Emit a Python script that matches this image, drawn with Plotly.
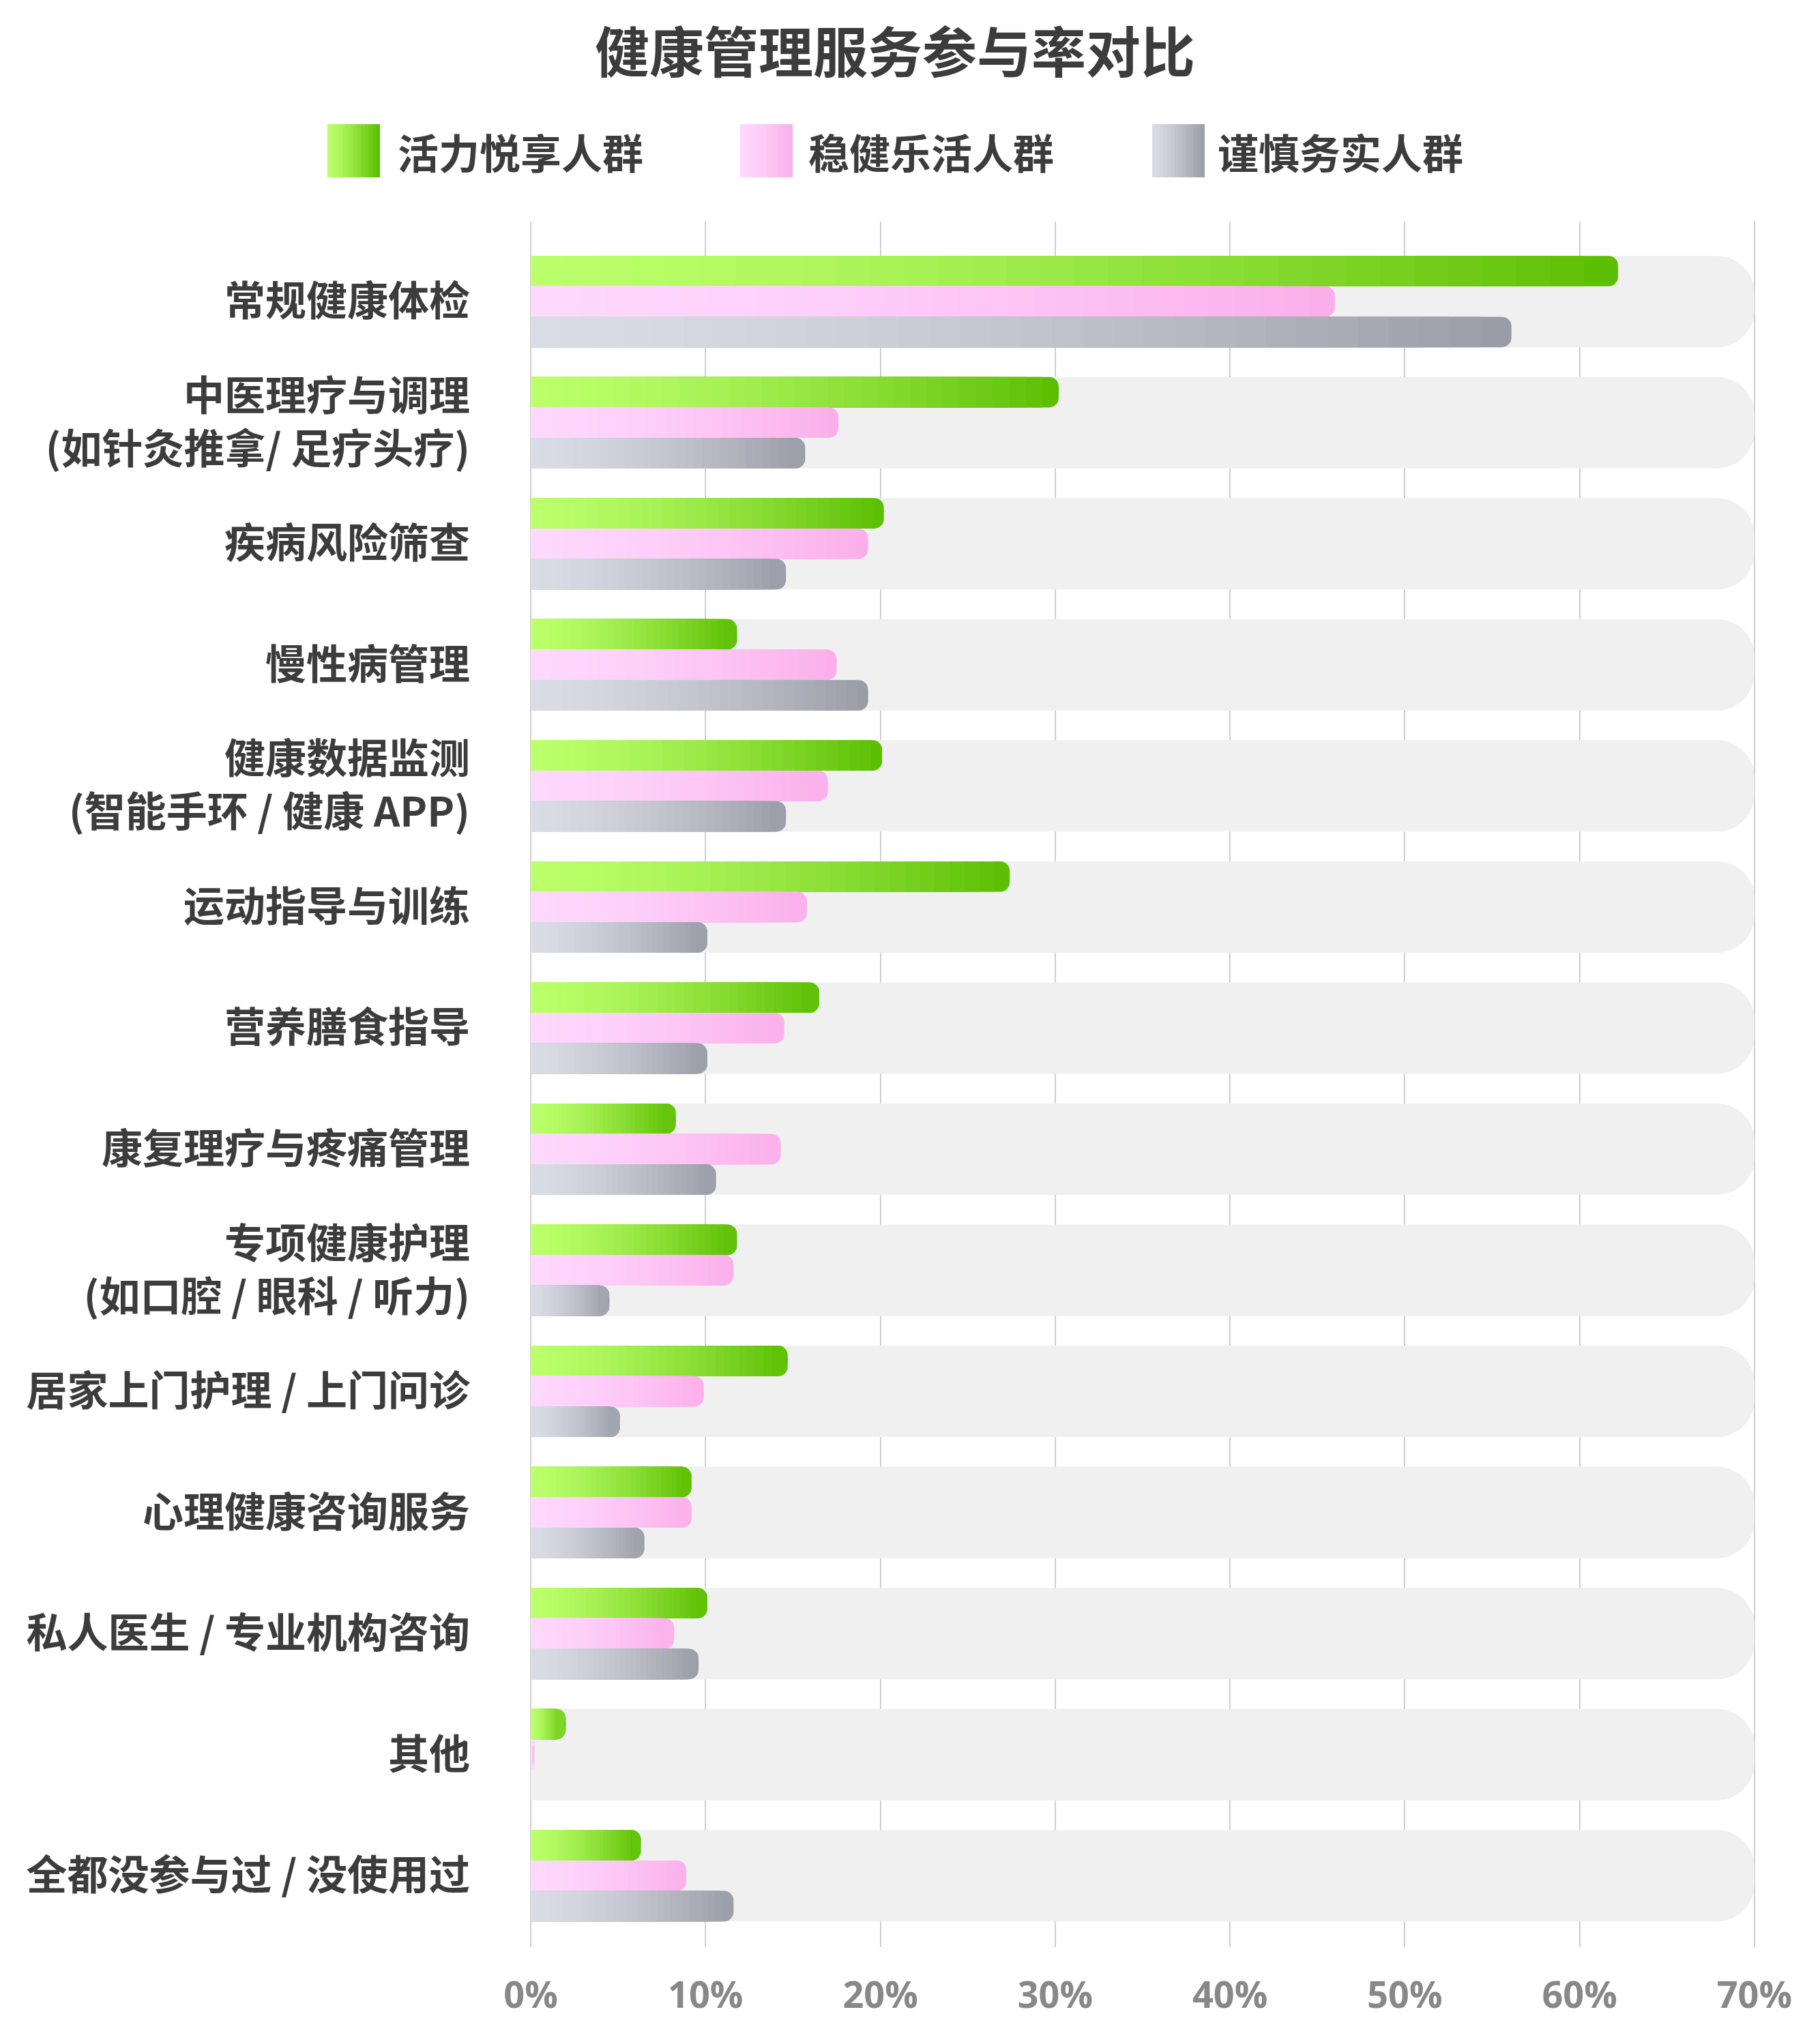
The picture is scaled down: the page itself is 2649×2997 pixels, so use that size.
import plotly.graph_objects as go

# ---------------- data ----------------
categories = [
    "常规健康体检",
    "中医理疗与调理<br>(如针灸推拿/ 足疗头疗)",
    "疾病风险筛查",
    "慢性病管理",
    "健康数据监测<br>(智能手环 / 健康 APP)",
    "运动指导与训练",
    "营养膳食指导",
    "康复理疗与疼痛管理",
    "专项健康护理<br>(如口腔 / 眼科 / 听力)",
    "居家上门护理 / 上门问诊",
    "心理健康咨询服务",
    "私人医生 / 专业机构咨询",
    "其他",
    "全都没参与过 / 没使用过",
]
series_names = ["活力悦享人群", "稳健乐活人群", "谨慎务实人群"]
vitality = [62.2, 30.2, 20.2, 11.8, 20.1, 27.4, 16.5, 8.3, 11.8, 14.7, 9.2, 10.1, 2.0, 6.3]
steady = [46.0, 17.6, 19.3, 17.5, 17.0, 15.8, 14.5, 14.3, 11.6, 9.9, 9.2, 8.2, 0.2, 8.9]
prudent = [56.1, 15.7, 14.6, 19.3, 14.6, 10.1, 10.1, 10.6, 4.5, 5.1, 6.5, 9.6, 0.0, 11.6]
background_max = [70] * len(categories)
x_ticks = [0, 10, 20, 30, 40, 50, 60, 70]

# ---------------- styling ----------------
W, H = 2649, 2997
ML, MR, MT, MB = 776, 75, 325, 142
PW, PH = W - ML - MR, H - MT - MB
FONT_CJK = "Noto Sans CJK SC"
TEXT_COLOR = "#3c3c3c"
gradients = [
    ("#bbff6a", "#5abd00"),
    ("#fed8fd", "#fbaeea"),
    ("#d9dce4", "#999ba6"),
]
K = 32  # gradient layers


def hex2rgb(h):
    h = h.lstrip("#")
    return [int(h[i:i + 2], 16) for i in (0, 2, 4)]


def mix(c1, c2, t):
    a, b = hex2rgb(c1), hex2rgb(c2)
    return "rgb(%d,%d,%d)" % tuple(round(a[i] + (b[i] - a[i]) * t) for i in range(3))


n = len(categories)
y_range = [n - 1 + 0.59, -0.66]

fig = go.Figure()

# background tracks (base axis)
fig.add_trace(go.Bar(
    x=background_max, y=categories, orientation="h",
    marker=dict(color="#f0f0f0", cornerradius=55, line=dict(width=0)),
    showlegend=False, hoverinfo="skip", yaxis="y",
))

# gradient bars (overlay axis)
for s_idx, (name, vals) in enumerate(zip(series_names, [vitality, steady, prudent])):
    light, dark = gradients[s_idx]
    for k in range(K):
        frac = (K - k) / K
        t = (K - k - 0.5) / K
        col = mix(light, dark, t ** 1.5)
        fig.add_trace(go.Bar(
            x=[v * frac for v in vals], y=categories, orientation="h",
            name=name, offsetgroup=name,
            marker=dict(color=col, cornerradius=14, line=dict(width=0)),
            showlegend=False, hoverinfo="skip" if k else "x+name", yaxis="y2",
        ))

# ---------------- manual legend ----------------
def px_x(px):
    return (px - ML) / PW


def px_y(py):
    return 1 - (py - MT) / PH


shapes = []
annotations = []
legend_pos = [(480, 581), (1085, 1183), (1689, 1783)]
sw_w, sw_top, sw_bot = 77, 182, 260
strips = 14
for (sx, tx), (light, dark), name in zip(legend_pos, gradients, series_names):
    for i in range(strips):
        x0 = sx + sw_w * i / strips
        x1 = sx + sw_w * (i + 1) / strips + 0.6
        shapes.append(dict(
            type="rect", xref="paper", yref="paper",
            x0=px_x(x0), x1=px_x(min(x1, sx + sw_w)), y0=px_y(sw_bot), y1=px_y(sw_top),
            fillcolor=mix(light, dark, ((i + 0.5) / strips) ** 1.3), line=dict(width=0), layer="above",
        ))
    annotations.append(dict(
        text=name, xref="paper", yref="paper", x=px_x(tx), y=px_y(221),
        xanchor="left", yanchor="middle", showarrow=False,
        font=dict(family=FONT_CJK, size=60, color=TEXT_COLOR, weight=700),
    ))

fig.update_layout(
    width=W, height=H,
    margin=dict(l=ML, r=MR, t=MT, b=MB, pad=0),
    paper_bgcolor="white", plot_bgcolor="white",
    barmode="group", bargap=0.245, bargroupgap=0,
    title=dict(
        text="健康管理服务参与率对比", x=1312 / W, xanchor="center",
        y=1 - 78 / H, yanchor="middle", xref="container", yref="container",
        font=dict(family=FONT_CJK, size=80, color=TEXT_COLOR, weight=700),
    ),
    xaxis=dict(
        range=[-0.08, 70.08], tickvals=x_ticks, ticktext=[f"{v}%" for v in x_ticks],
        showgrid=True, gridcolor="#cfcfcf", gridwidth=2, zeroline=False,
        showline=False, ticks="", ticklabelstandoff=34,
        tickfont=dict(family="Open Sans", size=54, color="#888888", weight=700),
    ),
    yaxis=dict(
        type="category", categoryorder="array", categoryarray=categories,
        range=y_range, showgrid=False, zeroline=False, showline=False, ticks="",
        ticklabelstandoff=86,
        tickfont=dict(family=FONT_CJK, size=60, color=TEXT_COLOR, weight=700),
    ),
    yaxis2=dict(
        type="category", categoryorder="array", categoryarray=categories,
        range=y_range, overlaying="y", showgrid=False, zeroline=False,
        showline=False, showticklabels=False, ticks="",
    ),
    shapes=shapes, annotations=annotations,
    showlegend=False,
)

fig.write_html("out.html")
